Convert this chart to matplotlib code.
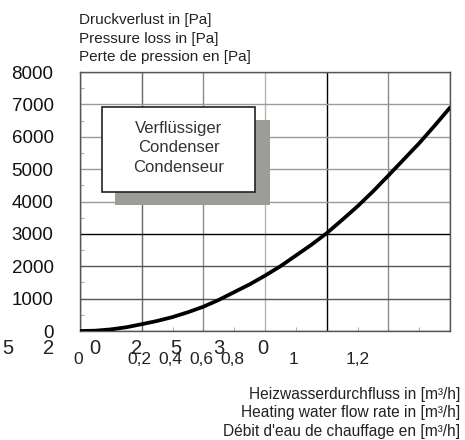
import numpy as np
import matplotlib.pyplot as plt

plt.rcParams['font.family'] = ['Liberation Sans', 'DejaVu Sans']

# (flow in steps of 1/16)
flow = [0, 0.0625, 0.125, 0.1875, 0.25, 0.3125, 0.375, 0.4375, 0.5, 0.5625, 0.625, 0.6875,
        0.75, 0.8125, 0.875, 0.9375, 1.0, 1.0625, 1.125, 1.1875, 1.25, 1.3125, 1.375, 1.4375, 1.5]
dp = [0, 10, 50, 115, 210, 310, 430, 580, 750, 960, 1200, 1440,
      1710, 2000, 2330, 2660, 3020, 3430, 3850, 4310, 4800, 5300, 5800, 6340, 6900]

y_ticks = [0, 1000, 2000, 3000, 4000, 5000, 6000, 7000, 8000]
x_grid = [0, 0.25, 0.5, 0.75, 1.0, 1.25, 1.5]
x_grid_colors = ['#444444', '#666666', '#8a8a8a', '#b5b5b5', '#000000', '#8a8a8a', '#555555']
y_grid_colors = ['#444444', '#555555', '#555555', '#000000', '#9a9a9a', '#9a9a9a', '#9a9a9a', '#9a9a9a', '#666666']

# the broken tick labels as they appear in the original
small_labels = ['0', '0,2', '0,4', '0,6', '0,8', '1', '1,2']
small_pos = [78, 139, 170, 201, 232, 294, 358]
big_labels = ['5', '2', '0', '2', '5', '3', '0']
big_pos = [8, 49, 95, 137, 176, 219, 263]

y_title = ['Druckverlust in [Pa]', 'Pressure loss in [Pa]', 'Perte de pression en [Pa]']
x_title = ['Heizwasserdurchfluss in [m\u00b3/h]', 'Heating water flow rate in [m\u00b3/h]',
           "D\u00e9bit d'eau de chauffage en [m\u00b3/h]"]
box_text = ['Verfl\u00fcssiger', 'Condenser', 'Condenseur']

W, H = 465, 440
fig = plt.figure(figsize=(W / 100, H / 100), dpi=100)
ax = fig.add_axes([80 / W, 1 - 331 / H, 370 / W, 259 / H])

for xv, c in zip(x_grid, x_grid_colors):
    ax.axvline(xv, color=c, lw=1, zorder=1)
for yv, c in zip(y_ticks, y_grid_colors):
    ax.axhline(yv, color=c, lw=1, zorder=1)

ax.plot(flow, dp, color='black', lw=2.7, solid_capstyle='round', solid_joinstyle='round', zorder=3)

ax.set_xlim(0, 1.5)
ax.set_ylim(0, 8000)
ax.set_yticks(y_ticks)
ax.set_yticklabels([str(v) for v in y_ticks], fontsize=13.5, color='#111111')
ax.set_yticks(np.arange(500, 8000, 1000), minor=True)
ax.set_xticks([])
ax.set_xticks(np.arange(0.125, 1.5, 0.25), minor=True)
ax.tick_params(axis='y', which='major', length=0, pad=19)
ax.tick_params(which='minor', direction='in', length=3, color='#999999')
for s in ax.spines.values():
    s.set_color('#555555')
    s.set_linewidth(1)

# legend-like box with shadow
fig.patches.append(plt.Rectangle((115 / W, 1 - 205 / H), 155 / W, 85 / H,
                                 transform=fig.transFigure, facecolor='#9c9c98',
                                 edgecolor='none', zorder=4))
fig.patches.append(plt.Rectangle((102 / W, 1 - 192 / H), 153 / W, 85 / H,
                                 transform=fig.transFigure, facecolor='white',
                                 edgecolor='#222222', lw=1.2, zorder=5))
for i, t in enumerate(box_text):
    fig.text(179 / W, 1 - (128 + 19.5 * i) / H, t, ha='center', va='center',
             fontsize=12, color='#333333', zorder=6)

for i, t in enumerate(y_title):
    fig.text(79 / W, 1 - (20 + 18.5 * i) / H, t, ha='left', va='center',
             fontsize=11, color='#222222')
for i, t in enumerate(x_title):
    fig.text(460 / W, 1 - (394 + 18.5 * i) / H, t, ha='right', va='center',
             fontsize=11.2, color='#222222')

for t, px in zip(big_labels, big_pos):
    fig.text(px / W, 1 - 348 / H, t, ha='center', va='center', fontsize=14.5, color='#222222')
for t, px in zip(small_labels, small_pos):
    fig.text(px / W, 1 - 359 / H, t, ha='center', va='center', fontsize=12.5, color='#222222')

plt.savefig('out.png', dpi=100)
